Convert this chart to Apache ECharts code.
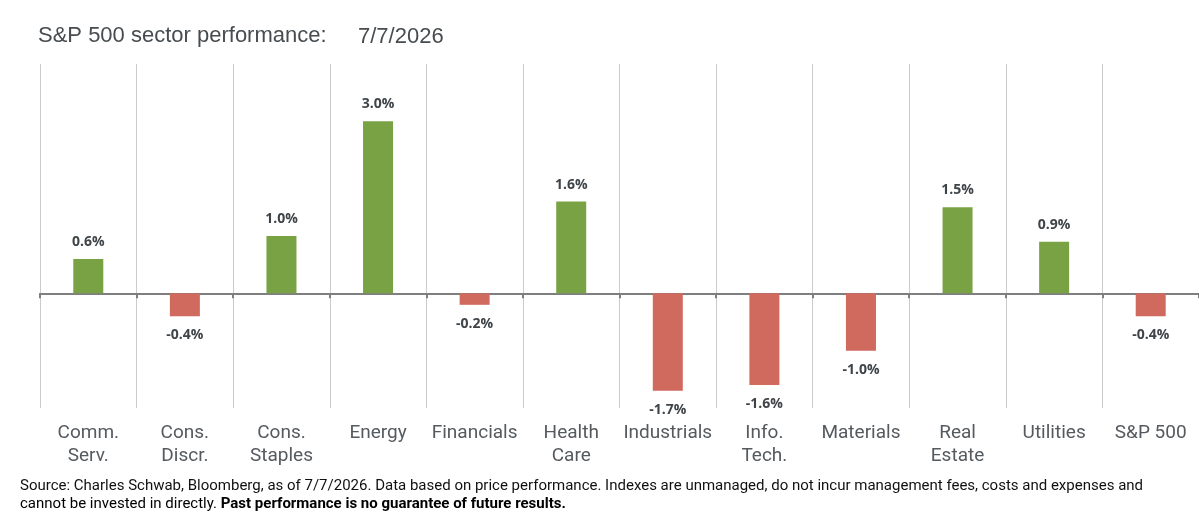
<!DOCTYPE html>
<html>
<head>
<meta charset="utf-8">
<script src="https://cdn.jsdelivr.net/npm/echarts@6/dist/echarts.min.js"></script>
<style>
  html, body { margin: 0; padding: 0; background: #fff; }
  #chart { width: 1199px; height: 524px; }
</style>
</head>
<body>
<div id="chart"></div>
<script>
const categories = ['Comm.\nServ.', 'Cons.\nDiscr.', 'Cons.\nStaples', 'Energy', 'Financials', 'Health\nCare',
  'Industrials', 'Info.\nTech.', 'Materials', 'Real\nEstate', 'Utilities', 'S&P 500']
const performance = [0.6, -0.4, 1.0, 3.0, -0.2, 1.6, -1.7, -1.6, -1.0, 1.5, 0.9, -0.4]
const titleText = 'S&P 500 sector performance:'
const dateText = '7/7/2026'

const GREEN = '#78a244'
const RED = '#d0695e'

let chart = echarts.init(document.getElementById('chart'))
let option = {
  animation: false,
  grid: {
    left: 40,
    top: 64,
    width: 1162,
    height: 344,
  },
  xAxis: [
    {
      type: 'category',
      data: categories,
      boundaryGap: true,
      axisLine: { show: false, onZero: false },
      axisTick: { show: false },
      splitLine: {
        show: true,
        interval: 0,
        lineStyle: { color: '#cccccc', width: 1 }
      },
      axisLabel: {
        interval: 0,
        margin: 14,
        color: '#555a5f',
        fontFamily: 'Roboto',
        fontSize: 19,
        lineHeight: 23,
      }
    },
    {
      type: 'category',
      data: categories,
      position: 'top',
      boundaryGap: true,
      axisLine: {
        show: true,
        onZero: true,
        lineStyle: { color: '#7f7f7f', width: 2 }
      },
      axisTick: {
        show: true,
        inside: true,
        length: 5,
        interval: 0,
        lineStyle: { color: '#7f7f7f', width: 2 }
      },
      axisLabel: { show: false },
      splitLine: { show: false }
    }
  ],
  yAxis: {
    type: 'value',
    min: -2,
    max: 4,
    interval: 1,
    show: false,
    splitLine: { show: false }
  },
  series: [
    {
      type: 'bar',
      xAxisIndex: 0,
      data: performance,
      barWidth: 30,
      itemStyle: {
        color: function (p) { return p.value >= 0 ? GREEN : RED }
      },
      label: {
        show: true,
        position: 'top',
        distance: 10,
        fontFamily: 'Open Sans',
        fontWeight: 'bold',
        fontSize: 14,
        color: '#3f4448',
        formatter: function (p) { return p.value.toFixed(1) + '%' }
      }
    }
  ],
  graphic: [
    {
      type: 'text',
      left: 38,
      top: 25,
      style: { text: titleText, font: '22px "Liberation Sans"', fill: '#474c50' }
    },
    {
      type: 'text',
      left: 358,
      top: 26,
      style: { text: dateText, font: '22px "Liberation Sans"', fill: '#474c50' }
    },
    {
      type: 'text',
      left: 20,
      top: 479,
      style: {
        text: 'Source: Charles Schwab, Bloomberg, as of 7/7/2026. Data based on price performance. Indexes are unmanaged, do not incur management fees, costs and expenses and',
        font: '15px Roboto',
        fill: '#111111'
      }
    },
    {
      type: 'text',
      left: 20,
      top: 497,
      style: {
        text: '{n|cannot be invested in directly. }{b|Past performance is no guarantee of future results.}',
        rich: {
          n: { fontFamily: 'Roboto', fontSize: 15, color: '#111111' },
          b: { fontFamily: 'Roboto', fontSize: 15, fontWeight: 'bold', color: '#111111' }
        }
      }
    }
  ]
}
// negative bars get their label below the bar
option.series[0].data = performance.map(function (v) {
  return v < 0 ? { value: v, label: { position: 'bottom', distance: 12 } } : v
})
chart.setOption(option)
</script>
</body>
</html>
